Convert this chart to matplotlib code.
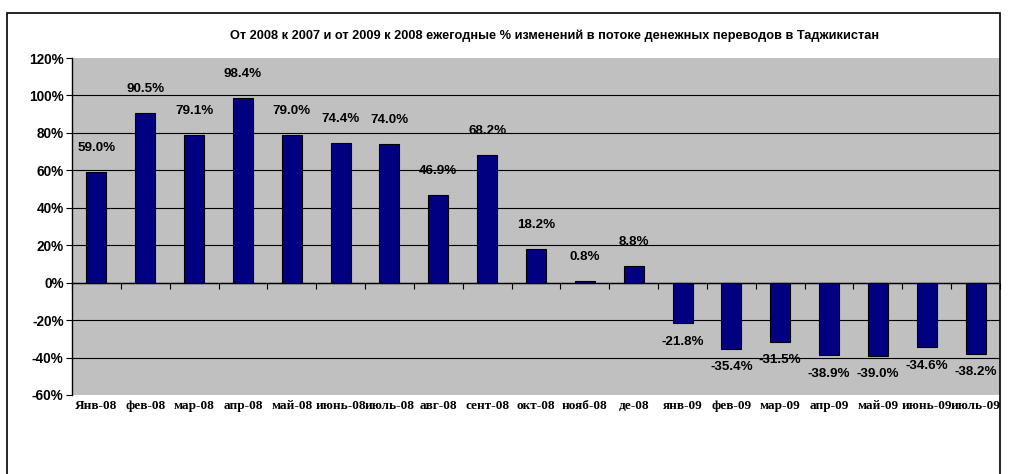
import numpy as np
import matplotlib.pyplot as plt
from matplotlib.patches import Rectangle

# данные
months = ['Янв-08', 'фев-08', 'мар-08', 'апр-08', 'май-08', 'июнь-08', 'июль-08',
          'авг-08', 'сент-08', 'окт-08', 'нояб-08', 'де-08', 'янв-09', 'фев-09',
          'мар-09', 'апр-09', 'май-09', 'июнь-09', 'июль-09']
changes = [59.0, 90.5, 79.1, 98.4, 79.0, 74.4, 74.0, 46.9, 68.2, 18.2, 0.8, 8.8,
           -21.8, -35.4, -31.5, -38.9, -39.0, -34.6, -38.2]
yticks = [-60, -40, -20, 0, 20, 40, 60, 80, 100, 120]
title = ('От 2008 к 2007 и от 2009 к 2008 ежегодные % изменений '
         'в потоке денежных переводов в Таджикистан')

W, H = 1017, 474
fig = plt.figure(figsize=(W / 100, H / 100), dpi=100)

# рамка диаграммы (нижний край за пределами картинки)
fig.patches.append(Rectangle((7 / W, -0.1), (1000 - 7) / W, 1.1 - 13 / H,
                             transform=fig.transFigure, fill=False,
                             edgecolor='black', lw=1.2))

ax = fig.add_axes([72 / W, (H - 395) / H, (1000 - 72) / W, (395 - 58) / H])
ax.set_facecolor('#C0C0C0')

x = np.arange(len(months))
ax.bar(x, changes, width=0.41, color='#000080', edgecolor='black', lw=0.8, zorder=3)

for xi, v in zip(x, changes):
    if v >= 0:
        off = 17.3
    else:
        off = -13
    ax.annotate('{:.1f}%'.format(v), (xi, v), xytext=(0, off), textcoords='offset points',
                ha='center', va='center', fontsize=9.6, fontweight='bold',
                family='Liberation Sans', zorder=4)

ax.set_xlim(-0.5, len(months) - 0.5)
ax.set_ylim(-60, 120)
ax.set_yticks(yticks)
ax.set_yticklabels(['{}%'.format(t) for t in yticks], fontsize=9.8, fontweight='bold',
                   family='Liberation Sans')
for t in yticks[1:-1]:
    ax.axhline(t, color='black', lw=0.8, zorder=1)
ax.tick_params(axis='y', direction='out', length=4, width=0.8, pad=2)

ax.set_xticks(x)
ax.set_xticklabels(months, fontsize=9.5, fontweight='bold', family='Liberation Serif')
ax.tick_params(axis='x', length=0, pad=3.5)

# ось категорий на уровне 0%
ax.axhline(0, color='black', lw=1, zorder=2)
ax.plot(np.arange(len(months) + 1) - 0.5, np.zeros(len(months) + 1), ls='none',
        marker=3, markersize=4, markeredgewidth=0.8, color='black', clip_on=False, zorder=2)

for s in ['top', 'right', 'bottom']:
    ax.spines[s].set_visible(False)
ax.spines['left'].set_linewidth(1)

fig.text(555 / W, (H - 36) / H, title, ha='center', va='center', fontsize=9.2,
         fontweight='bold', family='Liberation Sans')

plt.savefig('out.png', dpi=100)
